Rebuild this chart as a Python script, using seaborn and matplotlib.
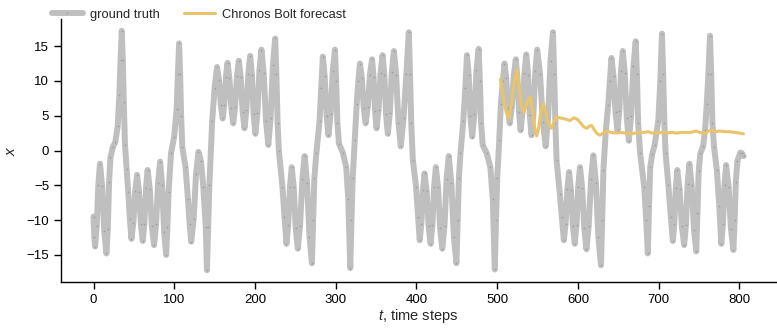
import matplotlib
matplotlib.use("Agg")
import matplotlib.pyplot as plt
import seaborn as sns

# ground truth
gt_t = [0, 1, 2, 4, 6, 8, 10.7, 13.3, 16, 17.7, 19.3, 21,
        24, 27, 30, 32, 33.5, 35, 36.3, 37.5, 39, 41, 43, 45, 47,
        49.3, 51.7, 54, 56.3, 58.7, 61, 63, 65, 67, 69.7, 72.3, 75,
        77.5, 80, 82.5, 85, 87.5, 90, 91.5, 93, 96, 100, 103, 104.5, 106,
        107.3, 108.5, 110, 114, 117, 119, 121, 124, 127, 130, 133, 136, 139, 140.5,
        142, 143.5, 147, 150, 153, 155.3, 157.7, 160, 162, 164, 166,
        168.3, 170.7, 173, 175.3, 177.7, 180, 182.3, 184.7, 187, 189.3, 191.7, 194,
        196.2, 198.3, 200.5, 203, 205.5, 208, 210.8, 213.7, 216.5, 219.3, 222.2, 225,
        226.5, 228, 229.5, 234, 236.5, 239, 241.2, 243.3, 245.5, 248, 250.5, 253,
        255.8, 258.7, 261.5, 264.5, 267.5, 270.5, 272, 273.5, 276, 280, 282, 284,
        286.3, 288.7, 291, 293.7, 296.3, 299, 300.5, 302, 304, 309, 313, 315.5, 318,
        319.5, 321, 323.5, 326, 328, 330, 332.3, 334.7, 337, 339.7, 342.3, 345,
        346.8, 348.7, 350.5, 353, 355.5, 358, 360.2, 362.3, 364.5, 367, 369.5, 372,
        374.8, 377.7, 380.5, 384, 387.5, 390.5, 392, 393.5, 395.5, 399.5, 402, 404,
        406, 408, 410, 412.5, 415, 417.5, 419.7, 421.8, 424, 426.7, 429.3, 432,
        434.7, 437.3, 440, 443.2, 446.3, 449.5, 451, 452.5, 454.5, 458, 460.5, 462.5,
        464.7, 466.8, 469, 471.7, 474.3, 477, 478.5, 480, 482, 487, 491.5, 494.5, 497,
        498.5, 500, 502.5, 504.5, 507, 509, 511.2, 513.3, 515.5, 518, 520.5, 523,
        525, 527, 529, 531.3, 533.7, 536, 538.2, 540.3, 542.5, 544.8, 547.2, 549.5,
        553, 556.5, 560, 563, 566, 569, 570.5, 572, 573.5, 577.5, 580, 582.5,
        584.7, 586.8, 589, 591.3, 593.7, 596, 598.2, 600.3, 602.5, 605.2, 607.8, 610.5,
        613.3, 616.2, 619, 622.2, 625.3, 628.5, 630, 631.5, 634.5, 637.5, 639.5, 641.5,
        644, 646.5, 649, 651.2, 653.3, 655.5, 658, 660.5, 663, 665.8, 668.7, 671.5,
        673, 674.5, 677, 682, 684.5, 686.5, 688, 689.5, 692, 695, 699.5, 702, 704,
        705.5, 707, 708.5, 712, 715, 717.5, 719.3, 721.2, 723, 725.8, 728.7, 731.5,
        733.7, 735.8, 738, 740.8, 743.7, 746.5, 748, 749.5, 751.5, 755, 757.5, 759.5,
        761.5, 763.5, 765, 766.5, 768.5, 772, 775, 777.5, 779.5, 781.5, 783.5,
        786.5, 789.5, 792.5, 794, 795.5, 797.5, 801, 803, 805]
gt_x = [-9.5, -12.5, -13.8, -10.8, -4.9, -1.9, -5.1, -11.6, -14.8, -11.3, -4.5, -1.0,
        0.5, 1.2, 3.5, 8, 13, 17.2, 13, 7, 0.8, -2.6, -5.9, -9.8, -12.7,
        -10.4, -5.8, -3.5, -5.9, -10.6, -13, -10.5, -5.4, -2.8, -5.5, -10.9, -13.6,
        -10.6, -4.6, -1.6, -5, -11.7, -15, -11, -6, -0.4, 2, 6, 11, 15.4,
        11, 5, 0.5, -2.4, -7, -10.5, -13.1, -9.9, -3.4, -0.2, -1.5, -5.2, -11, -17.2,
        -11, -5, 4.3, 9, 12, 10.2, 6.5, 4.6, 6.6, 10.6, 12.6,
        10.4, 6.1, 3.9, 6.2, 10.7, 12.9, 10.5, 5.6, 3.2, 5.8, 11, 13.6,
        10.8, 5.2, 2.4, 5.4, 11.5, 14.5, 11.1, 4.2, 0.8, 4.6, 12.3, 16.1,
        11, 4, 0, -5.2, -9.5, -13.4, -10.7, -5.2, -2.4, -5.3, -11.2, -14.1,
        -10.8, -4.1, -0.8, -4.7, -12.4, -16.2, -10, -4, -0.4, 4.3, 9, 13.5,
        10.7, 5, 2.2, 5.3, 11.4, 14.5, 10, 4, 1.0, -0.4, -2.4, -7, -16.9,
        -10, -4, 1.5, 6.7, 10, 12.5, 10.4, 6.1, 3.9, 6.2, 10.8, 13.1,
        10.6, 5.7, 3.2, 5.8, 11.1, 13.7, 10.9, 5.2, 2.4, 5.4, 11.3, 14.3,
        10.9, 4, 0.6, 4.7, 11, 17, 11, 4, -1.4, -5.2, -9.5, -12.9,
        -10.5, -5.7, -3.3, -5.8, -10.9, -13.4, -10.7, -5.2, -2.4, -5.3, -11.2, -14.1,
        -10.8, -4.1, -0.8, -4.7, -12.4, -16.2, -10, -4, -0.4, 4.3, 9, 13.7,
        10.8, 4.9, 2.0, 5.2, 11.5, 14.6, 10, 4, 0.8, -0.4, -2.4, -7, -17.1,
        -10, -4, 1.5, 6.7, 10, 12.5, 10.4, 6.1, 3.9, 6.2, 10.8, 13.1,
        10.5, 5.5, 2.9, 5.6, 11.1, 13.8, 10.9, 5.1, 2.2, 5.3, 11.4, 14.5,
        11, 4.1, 0.6, 4.7, 12.9, 17, 11, 4, -1.4, -6.2, -9.5, -12.9,
        -10.5, -5.6, -3.1, -5.7, -10.8, -13.4, -10.7, -5.2, -2.4, -5.4, -11.2, -14.2,
        -10.8, -4.1, -0.7, -4.6, -12.5, -16.5, -10, -2.8, 2.9, 6.6, 10, 13.3,
        10.7, 5.5, 2.9, 5.7, 11.4, 14.3, 11.1, 4.6, 1.4, 5, 12.1, 15.7,
        11, 4, -0.4, -5.2, -10, -14.8, -8, -2.4, -0.5, 0.8, 4.3, 10, 16.8,
        11, 4, -0.4, -5, -9.5, -13, -10.5, -5.4, -2.8, -5.5, -10.9, -13.6,
        -10.7, -4.8, -1.9, -5, -11.4, -14.5, -9, -3, -0.4, 0.6, 3, 6.7,
        11, 16.5, 11, 4, 0.5, -2.8, -8, -13.4, -10.6, -4.9, -2.1,
        -5.2, -11.3, -14.3, -10, -4.5, -1.5, -0.3, -0.4, -0.8]

# Chronos Bolt forecast
fc_t = [504, 507, 511, 514.5, 518, 521, 524.5, 527, 530, 533, 536, 539, 541, 544, 546, 549, 551, 554, 557, 560,
        563, 567, 570, 573, 577, 581, 585, 590, 595, 599, 603, 607, 611, 614, 617, 620, 624, 627, 631, 636,
        641, 647, 653, 659, 665, 671, 676, 682, 687, 692, 698, 704, 710, 716, 722, 728, 734, 740, 746, 751,
        756, 760, 764, 770, 776, 782, 788, 794, 800, 805]
fc_x = [10.2, 8, 5.5, 4.6, 7, 10, 11.6, 9, 6.5, 5.5, 6.5, 7.5, 7.7, 5.5, 3.5, 2.1, 3, 5.5, 6.8, 5.5,
        4, 3.2, 4, 4.8, 4.7, 4.6, 4.5, 4.3, 4.7, 4.5, 4.0, 3.4, 3.2, 3.5, 3.6, 3.0, 2.4, 2.2, 2.5, 2.8,
        2.6, 2.5, 2.6, 2.5, 2.4, 2.5, 2.6, 2.6, 2.7, 2.5, 2.5, 2.6, 2.5, 2.6, 2.5, 2.6, 2.6, 2.6, 2.8, 2.6,
        2.4, 2.7, 2.9, 2.7, 2.8, 2.7, 2.7, 2.6, 2.5, 2.4]

sns.set_theme(style="ticks")
plt.rcParams['font.family'] = ['Liberation Sans', 'DejaVu Sans']
plt.rcParams['mathtext.fontset'] = 'custom'
plt.rcParams['mathtext.it'] = 'Liberation Sans:italic'
plt.rcParams['mathtext.rm'] = 'Liberation Sans'

fig = plt.figure(figsize=(7.77, 3.33), dpi=100)
ax = fig.add_axes([61 / 777, 51 / 333, 715 / 777, 263 / 333])

sns.lineplot(x=gt_t, y=gt_x, ax=ax, color='grey', alpha=0.5, linewidth=4.3,
             marker='.', markersize=2.5, markeredgewidth=0, label='ground truth')
sns.lineplot(x=fc_t, y=fc_x, ax=ax, color='#E9C46A', linewidth=2.2,
             label='Chronos Bolt forecast')

ax.set_xlim(-40.25, 845.25)
ax.set_ylim(-18.9, 18.9)
ax.set_xticks([0, 100, 200, 300, 400, 500, 600, 700, 800])
ax.set_yticks([-15, -10, -5, 0, 5, 10, 15])
ax.tick_params(labelsize=9.5, length=5, width=1, colors='black')
for s in ['left', 'bottom']:
    ax.spines[s].set_color('black')
    ax.spines[s].set_linewidth(1)
sns.despine(ax=ax)

ax.set_xlabel('$t$, time steps', fontsize=10.5, labelpad=1)
ax.set_ylabel('$x$', fontsize=11, labelpad=6)

ax.legend_.remove()
h, l = ax.get_legend_handles_labels()
fig.legend(h, l, loc='center left', bbox_to_anchor=(40 / 777, 1 - 15 / 333), ncol=2,
           frameon=False, fontsize=9.3, handlelength=2.4, columnspacing=1.9,
           handletextpad=0.55)

fig.savefig('out.png', dpi=100)
